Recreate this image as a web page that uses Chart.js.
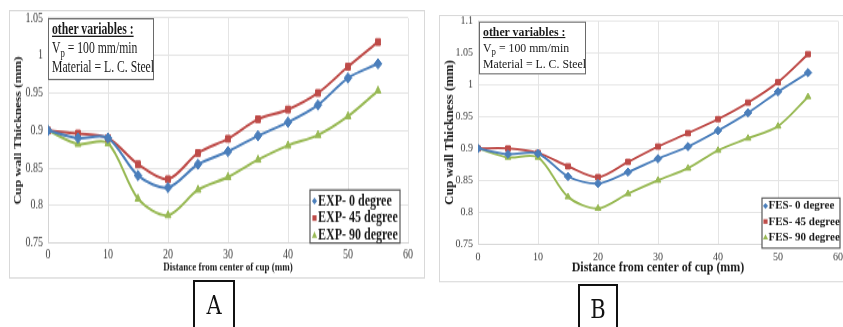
<!DOCTYPE html>
<html>
<head>
<meta charset="utf-8">
<script src="https://cdn.jsdelivr.net/npm/chart.js@4.4.0/dist/chart.umd.min.js"></script>
<style>
    html, body { margin: 0; padding: 0; background: #ffffff; }
    body { width: 843px; height: 327px; position: relative; overflow: hidden; }
    .panel { position: absolute; transform-origin: 0 0; }
    .panel canvas { position: absolute; left: 0; top: 0; }
    .frame { position: absolute; left: 0; top: 0; box-sizing: border-box; border: 1px solid #d9d9d9; pointer-events: none; }
    .note {
        position: absolute; box-sizing: border-box; background: #ffffff;
        border: 1.5px solid #6a6a6a; font-family: "Liberation Serif", serif; color: #1a1a1a;
        padding: 1px 3px; white-space: nowrap;
    }
    .note b { text-decoration: underline; }
    .note sub { font-size: 0.75em; vertical-align: -0.3em; line-height: 0; }
    .tag {
        position: absolute; box-sizing: border-box; border: 2px solid #111111; border-bottom: none;
        font-family: "DejaVu Serif", serif; font-size: 21px; color: #111111; text-align: center;
    }
    .tag span { display: inline-block; transform: scaleY(1.25); }
</style>
</head>
<body>

<div class="panel" id="panelA" style="left:9px; top:10px; width:416px; height:199px; transform:scaleY(1.35);">
    <canvas id="chartA" width="416" height="199"></canvas>
    <div class="frame" style="width:416px; height:199px;"></div>
    <div class="note" style="left:39px; top:6px; width:106px; height:46px; font-size:11.7px; line-height:14.2px;">
        <b>other variables :</b><br>V<sub>p</sub> = 100 mm/min<br>Material = L. C. Steel
    </div>
</div>

<div class="panel" id="panelB" style="left:439px; top:15px; width:404px; height:243px; transform:scaleY(1.1);">
    <canvas id="chartB" width="404" height="243"></canvas>
    <div class="frame" style="width:410px; height:243px;"></div>
    <div class="note" style="left:40px; top:6.4px; width:107px; height:48px; font-size:11.8px; line-height:14.4px;">
        <b>other variables :</b><br>V<sub>p</sub> = 100 mm/min<br>Material = L. C. Steel
    </div>
</div>

<div class="tag" style="left:193px; top:280px; width:42px; height:50px; line-height:46px;"><span>A</span></div>
<div class="tag" style="left:578px; top:284px; width:40px; height:46px; line-height:46px;"><span>B</span></div>

<script>
// Distance from center of cup (mm)
const distance = [0, 5, 10, 15, 20, 25, 30, 35, 40, 45, 50, 55];

// Experimental wall thickness (mm)
const exp0  = [0.900, 0.890, 0.890, 0.840, 0.824, 0.855, 0.872, 0.893, 0.911, 0.934, 0.970, 0.989];
const exp45 = [0.900, 0.896, 0.890, 0.855, 0.835, 0.870, 0.889, 0.915, 0.928, 0.950, 0.985, 1.018];
const exp90 = [0.900, 0.882, 0.883, 0.809, 0.787, 0.821, 0.838, 0.861, 0.880, 0.894, 0.919, 0.953];

// Simulated (FES) wall thickness (mm)
const fes0  = [0.900, 0.891, 0.892, 0.856, 0.845, 0.863, 0.884, 0.903, 0.928, 0.956, 0.989, 1.019];
const fes45 = [0.900, 0.900, 0.893, 0.872, 0.855, 0.879, 0.903, 0.924, 0.946, 0.972, 1.004, 1.048];
const fes90 = [0.900, 0.886, 0.886, 0.824, 0.806, 0.829, 0.850, 0.869, 0.897, 0.916, 0.935, 0.981];

const xTicks = [0, 10, 20, 30, 40, 50, 60];

const colors = {
    blue: '#4a7ebb',
    red: '#be4b48',
    green: '#98b954'
};

function toPoints(values) {
    return values.map((v, i) => ({ x: distance[i], y: v }));
}

function makeSeries(label, values, color, style) {
    return {
        label: label,
        data: toPoints(values),
        borderColor: color,
        backgroundColor: color,
        borderWidth: 2,
        tension: 0.3,
        pointStyle: style,
        pointRadius: style === 'rectRot' ? 3.8 : 3.4,
        pointBorderWidth: 1,
        pointBorderColor: color,
        pointBackgroundColor: color
    };
}

// small marker shapes for the boxed legend
function drawMarker(ctx, style, x, y, r) {
    ctx.beginPath();
    if (style === 'rectRot') {
        ctx.moveTo(x, y - r); ctx.lineTo(x + r, y); ctx.lineTo(x, y + r); ctx.lineTo(x - r, y);
    } else if (style === 'triangle') {
        ctx.moveTo(x, y - r); ctx.lineTo(x + r, y + r * 0.8); ctx.lineTo(x - r, y + r * 0.8);
    } else {
        ctx.rect(x - r * 0.8, y - r * 0.8, r * 1.6, r * 1.6);
    }
    ctx.closePath();
    ctx.fill();
}

// legend drawn as a bordered box inside the plot
const boxLegend = {
    id: 'boxLegend',
    afterDraw(chart, args, opts) {
        const ctx = chart.ctx;
        ctx.save();
        ctx.fillStyle = '#ffffff';
        ctx.fillRect(opts.x, opts.y, opts.w, opts.h);
        ctx.strokeStyle = '#595959';
        ctx.lineWidth = 1.2;
        ctx.strokeRect(opts.x, opts.y, opts.w, opts.h);
        ctx.font = 'bold ' + opts.size + 'px "Liberation Serif", serif';
        ctx.textBaseline = 'middle';
        chart.data.datasets.forEach((ds, i) => {
            const cy = opts.y + opts.first + i * opts.row;
            ctx.fillStyle = ds.borderColor;
            drawMarker(ctx, ds.pointStyle, opts.x + opts.mx, cy, 2.6);
            ctx.fillStyle = '#1a1a1a';
            ctx.fillText(ds.label, opts.x + opts.tx, cy);
        });
        ctx.restore();
    }
};

function makeChart(id, series, cfg) {
    const ctx = document.getElementById(id).getContext('2d');
    return new Chart(ctx, {
        type: 'line',
        data: { datasets: series },
        plugins: [boxLegend],
        options: {
            responsive: false,
            animation: false,
            devicePixelRatio: 1,
            layout: { padding: { top: cfg.padTop, right: cfg.padRight, left: 0, bottom: 0 } },
            plugins: {
                legend: { display: false },
                tooltip: { enabled: false },
                boxLegend: cfg.legend
            },
            scales: {
                x: {
                    type: 'linear',
                    min: 0,
                    max: 60,
                    afterBuildTicks: scale => { scale.ticks = xTicks.map(v => ({ value: v })); },
                    afterFit: scale => {
                        scale.height = cfg.xHeight;
                        scale.paddingLeft = 0;
                        scale.paddingRight = 0;
                    },
                    grid: { color: '#e4e4e4', drawTicks: false },
                    border: { color: '#d4d4d4' },
                    ticks: {
                        padding: cfg.xTickPad,
                        color: '#404040',
                        font: { family: '"Liberation Serif", serif', size: 10 },
                        maxRotation: 0
                    },
                    title: {
                        display: true,
                        text: 'Distance from center of cup (mm)',
                        color: '#1a1a1a',
                        font: { family: '"Liberation Serif", serif', size: cfg.xTitleSize, weight: 'bold' },
                        padding: { top: 0, bottom: cfg.xTitlePad }
                    }
                },
                y: {
                    min: 0.75,
                    max: cfg.yMax,
                    afterFit: scale => {
                        scale.width = 39;
                        scale.paddingTop = 0;
                        scale.paddingBottom = 0;
                    },
                    grid: { color: '#e4e4e4', drawTicks: false },
                    border: { color: '#d4d4d4' },
                    ticks: {
                        stepSize: 0.05,
                        padding: 5,
                        color: '#404040',
                        font: { family: '"Liberation Serif", serif', size: 10 },
                        callback: v => String(Number(v.toFixed(2)))
                    },
                    title: {
                        display: true,
                        text: 'Cup wall Thickness (mm)',
                        color: '#1a1a1a',
                        font: { family: '"Liberation Serif", serif', size: cfg.yTitleSize, weight: 'bold' },
                        padding: { top: cfg.yTitlePad, bottom: 0 }
                    }
                }
            }
        }
    });
}

makeChart('chartA', [
    makeSeries('EXP- 0 degree', exp0, colors.blue, 'rectRot'),
    makeSeries('EXP- 45 degree', exp45, colors.red, 'rect'),
    makeSeries('EXP- 90 degree', exp90, colors.green, 'triangle')
], {
    yMax: 1.05,
    padTop: 5.9,
    padRight: 17,
    xHeight: 26.4,
    xTickPad: 3,
    xTitleSize: 9,
    xTitlePad: 2.5,
    yTitleSize: 10,
    yTitlePad: 3,
    legend: { x: 301, y: 133.3, w: 90, h: 39.3, first: 8.2, row: 12.6, mx: 4.5, tx: 8, size: 12 }
});

makeChart('chartB', [
    makeSeries('FES- 0 degree', fes0, colors.blue, 'rectRot'),
    makeSeries('FES- 45 degree', fes45, colors.red, 'rect'),
    makeSeries('FES- 90 degree', fes90, colors.green, 'triangle')
], {
    yMax: 1.1,
    padTop: 5.5,
    padRight: 5,
    xHeight: 34.8,
    xTickPad: 5.8,
    xTitleSize: 12,
    xTitlePad: 5.8,
    yTitleSize: 12,
    yTitlePad: 3.8,
    legend: { x: 323, y: 166.4, w: 78, h: 45.5, first: 7.2, row: 14.1, mx: 3.5, tx: 6.5, size: 11 }
});
</script>
</body>
</html>
